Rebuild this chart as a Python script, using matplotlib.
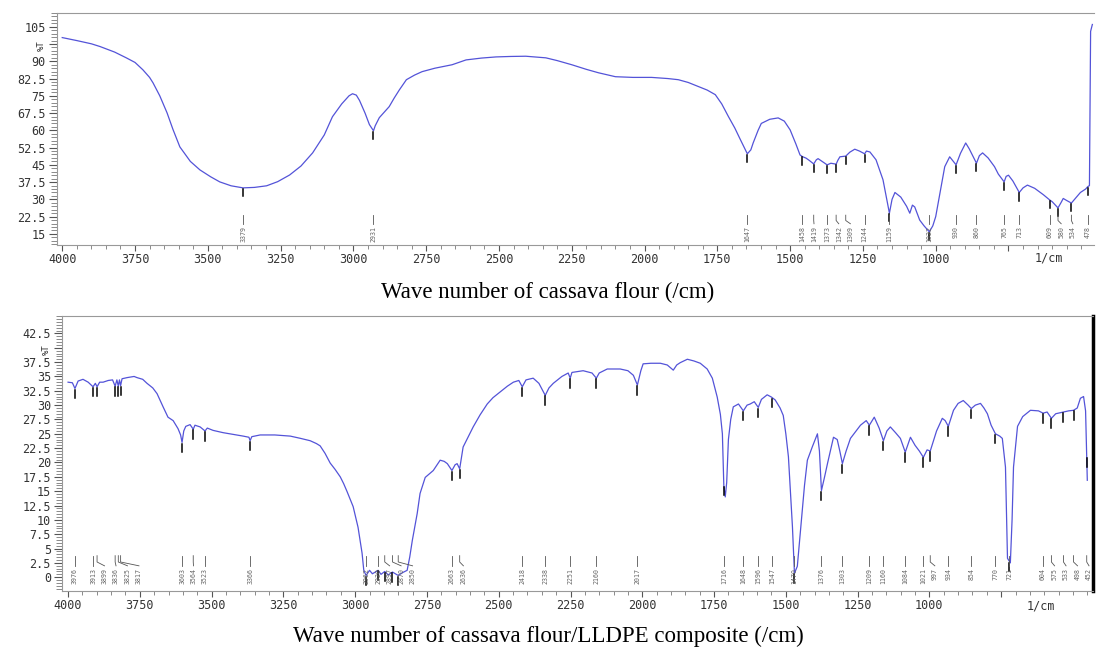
import matplotlib.pyplot as plt
import numpy as np
from matplotlib.ticker import MultipleLocator, FixedLocator, FixedFormatter
from matplotlib.transforms import blended_transform_factory

# cassava flour spectrum (wave number, %T)
flour_wn = [4000, 3950, 3900, 3870, 3820, 3780, 3750, 3723, 3700, 3688, 3665, 3640, 3620, 3596,
            3560, 3527, 3490, 3459, 3420, 3379, 3340, 3298, 3260, 3219, 3180, 3140, 3100, 3072,
            3040, 3015, 3003, 2990, 2979, 2960, 2945, 2931, 2925, 2911, 2890, 2877, 2860, 2842,
            2818, 2790, 2764, 2720, 2661, 2613, 2560, 2510, 2460, 2408, 2339, 2300, 2250, 2200,
            2158, 2100, 2040, 1976, 1920, 1884, 1850, 1815, 1785, 1757, 1735, 1712, 1690, 1671,
            1647, 1635, 1627, 1610, 1599, 1570, 1541, 1520, 1500, 1480, 1466, 1458, 1445, 1435,
            1419, 1410, 1404, 1390, 1373, 1360, 1342, 1336, 1329, 1309, 1295, 1278, 1262, 1244,
            1238, 1226, 1205, 1181, 1159, 1150, 1140, 1120, 1100, 1089, 1080, 1072, 1055, 1040,
            1022, 1010, 1000, 985, 969, 952, 930, 915, 897, 885, 860, 850, 839, 820, 798, 785,
            765, 758, 750, 735, 713, 700, 685, 660, 630, 609, 600, 580, 570, 562, 550, 534, 520,
            503, 485, 478, 472, 468, 462]
flour_t = [100.3, 99.0, 97.6, 96.4, 94.0, 91.5, 89.5, 86.3, 83.0, 80.6, 75.0, 67.6, 60.5, 52.8,
           46.5, 42.8, 39.8, 37.6, 35.9, 35.0, 35.2, 35.9, 37.7, 40.6, 44.5, 50.2, 58.0, 65.9,
           71.5, 75.0, 75.9, 75.3, 73.0, 67.5, 62.5, 59.8, 62.0, 65.5, 68.5, 70.3, 74.0, 77.6,
           82.0, 84.0, 85.5, 87.0, 88.5, 90.6, 91.4, 91.9, 92.1, 92.2, 91.5, 90.3, 88.5, 86.5,
           85.0, 83.3, 83.0, 83.0, 82.5, 82.0, 80.8, 79.0, 77.5, 75.5, 71.5, 66.0, 61.0, 56.0,
           49.8, 51.5, 54.5, 60.0, 63.0, 64.8, 65.4, 64.0, 60.2, 54.0, 49.3, 48.6, 47.9, 47.0,
           45.4, 47.2, 47.7, 46.5, 45.0, 45.7, 45.3, 47.0, 48.5, 48.8, 50.5, 51.8, 51.0, 49.8,
           51.0, 50.6, 47.2, 38.5, 24.0, 30.0, 33.0, 31.0, 27.0, 24.0, 27.5, 26.7, 21.0, 18.5,
           15.9, 18.5, 22.5, 33.0, 44.2, 48.5, 45.0, 50.0, 54.5, 52.0, 45.7, 49.0, 50.2, 48.0,
           44.2, 41.0, 37.6, 40.0, 40.5, 38.0, 33.0, 35.0, 36.2, 34.8, 32.0, 29.8, 29.0, 26.3,
           28.5, 30.4, 29.5, 28.4, 30.5, 33.0, 34.5, 35.5, 36.0, 103.0, 106.0]

# cassava flour / LLDPE composite spectrum
comp_wn = [4000, 3985, 3976, 3965, 3948, 3930, 3913, 3905, 3899, 3890, 3878, 3860, 3845, 3836,
           3830, 3825, 3821, 3817, 3812, 3794, 3770, 3760, 3740, 3725, 3705, 3690, 3669, 3652,
           3634, 3617, 3608, 3603, 3597, 3590, 3575, 3564, 3558, 3540, 3523, 3515, 3495, 3460,
           3425, 3390, 3370, 3366, 3360, 3331, 3280, 3226, 3190, 3157, 3135, 3122, 3105, 3087,
           3070, 3052, 3040, 3028, 3007, 2990, 2976, 2970, 2962, 2950, 2940, 2920, 2910, 2897,
           2885, 2870, 2850, 2835, 2819, 2810, 2801, 2784, 2774, 2756, 2728, 2704, 2690, 2679,
           2663, 2652, 2645, 2636, 2624, 2605, 2589, 2565, 2540, 2520, 2495, 2470, 2449, 2430,
           2418, 2405, 2380, 2360, 2338, 2325, 2310, 2280, 2258, 2251, 2245, 2206, 2175, 2160,
           2150, 2122, 2077, 2050, 2031, 2017, 2005, 1997, 1970, 1937, 1913, 1892, 1880, 1868,
           1843, 1820, 1798, 1774, 1756, 1739, 1728, 1721, 1716, 1711, 1706, 1700, 1692, 1683,
           1665, 1648, 1635, 1624, 1610, 1596, 1585, 1565, 1550, 1537, 1520, 1509, 1500, 1491,
           1477, 1470, 1460, 1446, 1435, 1425, 1408, 1390, 1383, 1376, 1365, 1355, 1334, 1321,
           1312, 1303, 1290, 1275, 1255, 1240, 1220, 1209, 1192, 1175, 1160, 1148, 1136, 1118,
           1101, 1084, 1066, 1050, 1035, 1021, 1008, 997, 975, 955, 945, 934, 916, 900, 882,
           865, 854, 840, 822, 810, 798, 785, 770, 755, 746, 735, 728, 718, 712, 707, 693, 675,
           648, 620, 604, 590, 575, 560, 533, 515, 498, 485, 474, 463, 456, 450]
comp_t = [34.0, 33.9, 32.9, 34.2, 34.5, 34.0, 33.2, 33.8, 33.2, 34.0, 34.0, 34.3, 34.4, 33.3,
          34.4, 33.3, 34.4, 33.4, 34.6, 34.8, 35.0, 34.8, 34.5, 33.8, 33.0, 32.0, 29.7, 27.9,
          27.3, 25.9, 24.8, 23.5, 25.5, 26.3, 26.6, 25.8, 26.5, 26.2, 25.5, 26.0, 25.6, 25.2,
          24.9, 24.6, 24.4, 23.8, 24.5, 24.8, 24.8, 24.6, 24.2, 23.8, 23.3, 22.9, 21.6, 19.9,
          18.8, 17.5, 16.3, 14.9, 12.3, 8.7, 4.2, 1.2, 0.3, 1.2, 0.6, 1.2, 0.5, 1.0,
          0.4, 0.9, 0.3, 0.8, 1.2, 3.5, 6.4, 11.1, 14.6, 17.4, 18.6, 20.4, 20.2, 19.8,
          18.6, 19.6, 19.8, 18.9, 22.7, 24.6, 26.2, 28.3, 30.2, 31.3, 32.3, 33.3, 34.0, 34.3,
          33.2, 34.4, 34.7, 33.8, 31.7, 33.0, 33.8, 35.0, 35.6, 34.7, 35.7, 36.0, 35.6, 34.7,
          35.6, 36.3, 36.3, 36.0, 35.2, 33.5, 36.0, 37.2, 37.3, 37.3, 37.0, 36.1, 37.0, 37.4,
          38.0, 37.7, 37.3, 36.3, 34.7, 31.4, 28.4, 25.0, 16.0, 14.0, 16.5, 24.0, 27.5, 29.7,
          30.2, 29.0, 30.0, 30.2, 30.6, 29.6, 31.0, 31.8, 31.4, 30.9, 29.5, 28.2, 25.0, 21.0,
          8.8, 0.7, 1.9, 9.9, 16.0, 20.4, 22.7, 25.0, 22.0, 15.1, 17.5, 19.8, 24.4, 24.0,
          22.0, 19.8, 22.0, 24.2, 25.5, 26.5, 27.3, 26.5, 27.9, 26.0, 23.8, 25.5, 26.2, 25.2,
          24.2, 21.8, 24.4, 23.0, 22.0, 20.9, 22.2, 22.0, 25.5, 27.7, 27.3, 26.3, 29.1, 30.3, 30.8,
          30.0, 29.4, 30.0, 30.3, 29.5, 28.5, 26.5, 25.0, 24.6, 24.2, 19.2, 3.3, 2.5, 10.0, 19.2,
          26.3, 28.0, 29.1, 29.0, 28.6, 28.8, 27.7, 28.5, 28.8, 29.0, 29.1, 29.5, 31.2, 31.5,
          29.0, 16.9]

flour_peaks = [3379, 2931, 1647, 1458, 1419, 1373, 1342, 1309, 1244, 1159, 1022, 930, 860,
               765, 713, 609, 580, 534, 478]
comp_peaks = [3976, 3913, 3899, 3836, 3825, 3817, 3603, 3564, 3523, 3366, 2962, 2920, 2897,
              2870, 2850, 2663, 2636, 2418, 2338, 2251, 2160, 2017, 1716, 1648, 1596, 1547,
              1470, 1376, 1303, 1209, 1160, 1084, 1021, 997, 934, 854, 770, 721, 604, 575,
              533, 498, 452]

x_major = [4000, 3750, 3500, 3250, 3000, 2750, 2500, 2250, 2000, 1750, 1500, 1250, 1000, 750]
x_labels = ["4000", "3750", "3500", "3250", "3000", "2750", "2500", "2250", "2000", "1750",
            "1500", "1250", "1000", ""]
flour_yticks = [15, 22.5, 30, 37.5, 45, 52.5, 60, 67.5, 75, 82.5, 90, 97.5, 105]
flour_ylabels = ["15", "22.5", "30", "37.5", "45", "52.5", "60", "67.5", "75", "82.5", "90",
                 "%T", "105"]
comp_yticks = [0, 2.5, 5, 7.5, 10, 12.5, 15, 17.5, 20, 22.5, 25, 27.5, 30, 32.5, 35, 37.5, 40, 42.5]
comp_ylabels = ["0", "2.5", "5", "7.5", "10", "12.5", "15", "17.5", "20", "22.5", "25", "27.5",
                "30", "32.5", "35", "37.5", "%T", "42.5"]

line_color = "#5353d8"
mono = "DejaVu Sans Mono"


def spread(peaks, gap):
    # keep peak labels from overlapping, pushing them toward lower wave numbers
    pos = []
    for p in peaks:
        if pos and pos[-1] - p < gap:
            pos.append(pos[-1] - gap)
        else:
            pos.append(p)
    return pos


def draw(ax, wn, t, peaks, yticks, ylabels, ylim, xlim, minor_y, lab):
    ax.plot(wn, t, color=line_color, lw=0.9)
    ax.set_xlim(xlim)
    ax.set_ylim(ylim)
    span = ylim[1] - ylim[0]

    # peak marks on the curve
    for p in peaks:
        yc = np.interp(p, wn[::-1], t[::-1])
        ax.plot([p, p], [yc - 0.004 * span, yc - 0.035 * span], color="black", lw=1.1)

    # peak labels along the bottom
    lx = spread(peaks, 40)
    y1 = lab + 0.045 * span
    y2 = lab + 0.022 * span
    y3 = lab + 0.008 * span
    for p, x in zip(peaks, lx):
        ax.plot([p, p, x], [y1, y2, y3], color="#555555", lw=0.6)
        ax.text(x, lab, str(p), rotation=90, ha="center", va="top", fontsize=4.8,
                color="#666666", family=mono)

    ax.xaxis.set_major_locator(FixedLocator(x_major))
    ax.xaxis.set_major_formatter(FixedFormatter(x_labels))
    ax.xaxis.set_minor_locator(MultipleLocator(50))
    ax.yaxis.set_major_locator(FixedLocator(yticks))
    ax.yaxis.set_major_formatter(FixedFormatter(ylabels))
    ax.yaxis.set_minor_locator(MultipleLocator(minor_y))
    ax.tick_params(axis="both", which="major", direction="out", length=6, width=0.8,
                   color="#555555", labelsize=8.5, labelcolor="#333333", pad=2)
    ax.tick_params(axis="x", which="major", length=4)
    ax.tick_params(axis="both", which="minor", direction="out", length=4, width=0.6,
                   color="#777777")
    ax.tick_params(axis="x", which="minor", length=3)
    for lbl in ax.get_xticklabels() + ax.get_yticklabels():
        lbl.set_family(mono)
    for lbl, s in zip(ax.get_yticklabels(), ylabels):
        if s == "%T":
            lbl.set_rotation(90)
            lbl.set_fontsize(6.5)
    trans = blended_transform_factory(ax.transData, ax.transAxes)
    ax.text(610, -0.03, "1/cm", transform=trans, ha="center", va="top", fontsize=8.5,
            color="#333333", family=mono)
    for s in ["top", "left", "bottom"]:
        ax.spines[s].set_color("#999999")
        ax.spines[s].set_linewidth(0.8)


fig = plt.figure(figsize=(10.96, 6.48), dpi=100)
ax1 = fig.add_axes([0.052, 0.622, 0.946, 0.358])
ax2 = fig.add_axes([0.0566, 0.088, 0.9407, 0.424])

draw(ax1, flour_wn, flour_t, flour_peaks, flour_yticks, flour_ylabels, (10.2, 111),
     (4018, 457), 1.5, 18.6)
ax1.spines["right"].set_visible(False)

draw(ax2, comp_wn, comp_t, comp_peaks, comp_yticks, comp_ylabels, (-2.4, 45.5),
     (4021, 430), 0.5, 1.6)
ax2.spines["right"].set_color("black")
ax2.spines["right"].set_linewidth(2.5)

fig.text(0.5, 0.549, "Wave number of cassava flour (/cm)", ha="center", va="center",
         fontsize=16.5, family="Liberation Serif")
fig.text(0.5, 0.018, "Wave number of cassava flour/LLDPE composite (/cm)", ha="center",
         va="center", fontsize=16.5, family="Liberation Serif")

fig.savefig("out.png", dpi=100)
